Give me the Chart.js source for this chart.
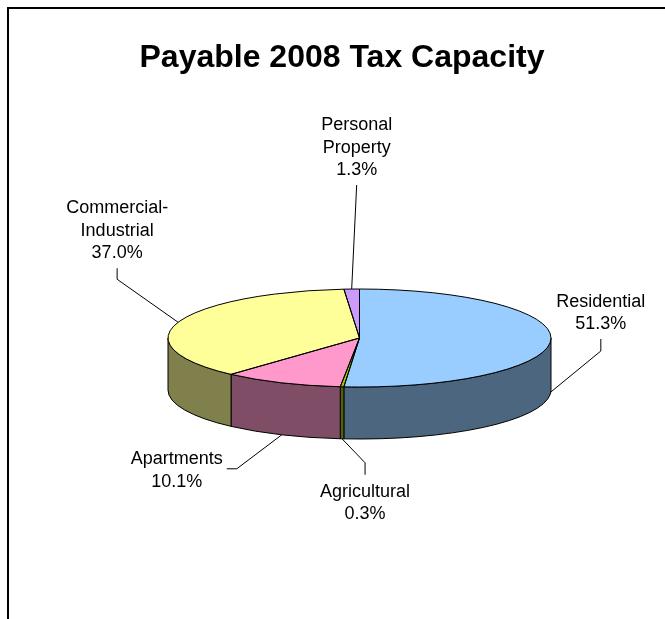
<!DOCTYPE html>
<html>
<head>
<meta charset="utf-8">
<title>Payable 2008 Tax Capacity</title>
<script src="https://cdn.jsdelivr.net/npm/chart.js@4.4.1/dist/chart.umd.min.js"></script>
<style>
  html, body { margin: 0; padding: 0; background: #fff; }
  #wrap { position: relative; width: 665px; height: 619px; }
</style>
</head>
<body>
<div id="wrap"><canvas id="taxChart"></canvas></div>
<script>
// Payable 2008 tax capacity by property class (percent of total)
const categories = ['Residential', 'Agricultural', 'Apartments', 'Commercial-Industrial', 'Personal Property'];
const labelLines = [['Residential'], ['Agricultural'], ['Apartments'], ['Commercial-', 'Industrial'], ['Personal', 'Property']];
const shares = [51.3, 0.3, 10.1, 37.0, 1.3];

// top face and side wall colours
const topColors = ['#99CCFF', '#99CC00', '#FF99CC', '#FFFF99', '#CC99FF'];
const sideColors = ['#4D6680', '#4D6600', '#804D66', '#80804D', '#664D80'];

// the tilted pie: top ellipse and wall height
const pie3d = { cx: 359.5, cy: 338, rx: 191.5, ry: 49, depth: 52 };

// leader lines, relative to the point where they touch the slice
const leaders = [
    { elbow: [50, -41], end: [50, -53], place: 'above' },
    { elbow: [23, 24], end: [23, 36], place: 'below' },
    { elbow: [-45, 34], end: [-55, 34], place: 'left' },
    { elbow: [-61, -43], end: [-61, -54], place: 'above' },
    { elbow: null, end: [5, -104], place: 'above' }
];

const FONT = '"Liberation Sans", Arial, sans-serif';
const LINE_H = 22.5;

Chart.defaults.font.family = FONT;
Chart.defaults.color = '#000';

const pie3dPlugin = {
    id: 'pie3d',
    beforeDraw(chart) {
        const ctx = chart.ctx;
        ctx.save();
        ctx.fillStyle = '#fff';
        ctx.fillRect(0, 0, chart.width, chart.height);
        // chart frame (left and top edges)
        ctx.fillStyle = '#000';
        ctx.fillRect(7, 7, 2, chart.height - 7);
        ctx.fillRect(7, 7, chart.width - 7, 2);
        ctx.restore();
    },
    beforeDatasetsDraw(chart) {
        const ctx = chart.ctx;
        const arcs = chart.getDatasetMeta(0).data;
        const { cx, cy, rx, ry, depth } = pie3d;

        // side walls, only the front half is visible
        ctx.save();
        ctx.lineWidth = 1;
        ctx.strokeStyle = '#000';
        arcs.forEach((arc, i) => {
            const a = Math.max(arc.startAngle, 0);
            const b = Math.min(arc.endAngle, Math.PI);
            if (b <= a) return;
            ctx.beginPath();
            ctx.ellipse(cx, cy, rx, ry, 0, a, b);
            ctx.ellipse(cx, cy + depth, rx, ry, 0, b, a, true);
            ctx.closePath();
            ctx.fillStyle = sideColors[i];
            ctx.fill();
            ctx.stroke();
        });
        ctx.restore();

        // squash the round pie onto the top ellipse
        const ref = arcs[0];
        ctx.save();
        ctx.translate(cx, cy);
        ctx.scale(rx / ref.outerRadius, ry / ref.outerRadius);
        ctx.translate(-ref.x, -ref.y);
    },
    afterDatasetsDraw(chart) {
        const ctx = chart.ctx;
        ctx.restore();

        const arcs = chart.getDatasetMeta(0).data;
        const { cx, cy, rx, ry, depth } = pie3d;

        ctx.save();
        ctx.lineWidth = 1;
        ctx.strokeStyle = '#000';
        // slice outlines on the top face
        arcs.forEach(arc => {
            ctx.beginPath();
            ctx.moveTo(cx, cy);
            ctx.ellipse(cx, cy, rx, ry, 0, arc.startAngle, arc.endAngle);
            ctx.closePath();
            ctx.stroke();
        });

        // data labels with leader lines
        ctx.font = '18px ' + FONT;
        ctx.fillStyle = '#000';
        ctx.textAlign = 'center';
        ctx.textBaseline = 'alphabetic';
        arcs.forEach((arc, i) => {
            const mid = (arc.startAngle + arc.endAngle) / 2;
            let px = cx + rx * Math.cos(mid);
            let py = cy + ry * Math.sin(mid);
            if (Math.sin(mid) > 0) py += depth;

            const ld = leaders[i];
            const ex = px + ld.end[0];
            const ey = py + ld.end[1];
            ctx.beginPath();
            ctx.moveTo(px, py);
            if (ld.elbow) ctx.lineTo(px + ld.elbow[0], py + ld.elbow[1]);
            ctx.lineTo(ex, ey);
            ctx.stroke();

            const lines = labelLines[i].concat([shares[i].toFixed(1) + '%']);
            const n = lines.length;
            let x = ex;
            let y0;
            if (ld.place === 'above') {
                y0 = ey - 10 - (n - 1) * LINE_H;
            } else if (ld.place === 'below') {
                y0 = ey + 22;
            } else {
                const w = Math.max(...lines.map(t => ctx.measureText(t).width));
                x = ex - 4 - w / 2;
                y0 = ey - (n - 1) * LINE_H / 2 + 6.5;
            }
            lines.forEach((t, k) => ctx.fillText(t, x, y0 + k * LINE_H));
        });
        ctx.restore();
    }
};

new Chart(document.getElementById('taxChart'), {
    type: 'pie',
    data: {
        labels: categories,
        datasets: [{
            data: shares,
            backgroundColor: topColors,
            borderWidth: 0,
            clip: false
        }]
    },
    options: {
        responsive: true,
        maintainAspectRatio: false,
        devicePixelRatio: 1,
        animation: false,
        layout: { padding: { left: 26, right: 7, top: 0, bottom: 0 } },
        plugins: {
            legend: { display: false },
            tooltip: { enabled: false },
            title: {
                display: true,
                text: 'Payable 2008 Tax Capacity',
                font: { size: 32, weight: 'bold' },
                color: '#000',
                padding: { top: 39, bottom: 10 }
            }
        }
    },
    plugins: [pie3dPlugin]
});
</script>
</body>
</html>
